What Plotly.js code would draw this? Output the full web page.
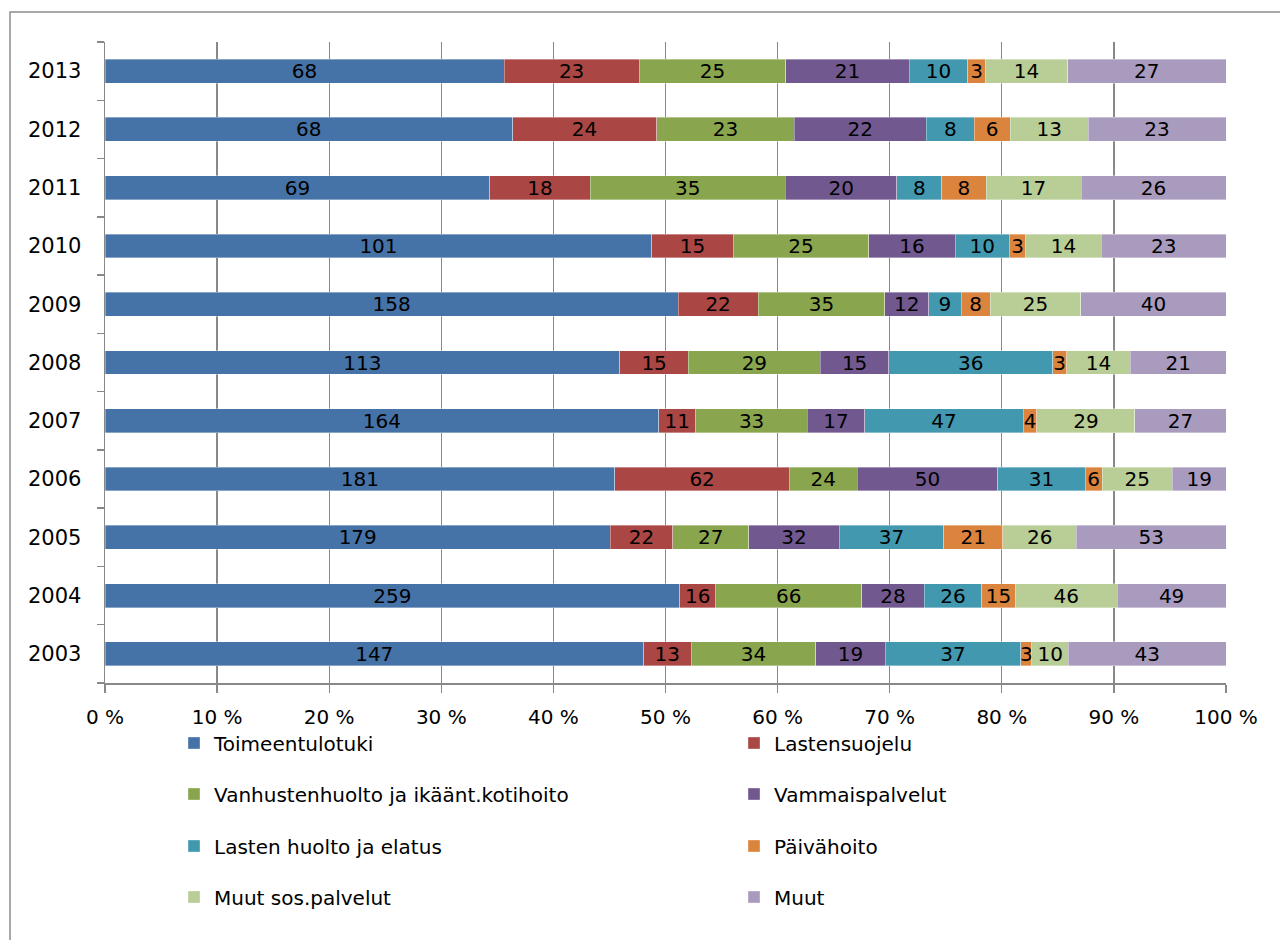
<!DOCTYPE html>
<html>
<head>
<meta charset="utf-8">
<script src="https://cdn.plot.ly/plotly-3.0.1.min.js"></script>
<style>html,body{margin:0;padding:0;background:#fff;}#chart{width:1280px;height:940px;}</style>
</head>
<body>
<div id="chart"></div>
<script>
const years = ['2003','2004','2005','2006','2007','2008','2009','2010','2011','2012','2013'];
const seriesNames = ['Toimeentulotuki','Lastensuojelu','Vanhustenhuolto ja ikäänt.kotihoito','Vammaispalvelut','Lasten huolto ja elatus','Päivähoito','Muut sos.palvelut','Muut'];
const toimeentulotuki = [147,259,179,181,164,113,158,101,69,68,68];
const lastensuojelu   = [13,16,22,62,11,15,22,15,18,24,23];
const vanhustenhuolto = [34,66,27,24,33,29,35,25,35,23,25];
const vammaispalvelut = [19,28,32,50,17,15,12,16,20,22,21];
const lastenHuolto    = [37,26,37,31,47,36,9,10,8,8,10];
const paivahoito      = [3,15,21,6,4,3,8,3,8,6,3];
const muutSos         = [10,46,26,25,29,14,25,14,17,13,14];
const muut            = [43,49,53,19,27,21,40,23,26,23,27];
const xTickVals = [0,10,20,30,40,50,60,70,80,90,100];
const xTickText = ['0 %','10 %','20 %','30 %','40 %','50 %','60 %','70 %','80 %','90 %','100 %'];

const seriesValues = [toimeentulotuki,lastensuojelu,vanhustenhuolto,vammaispalvelut,lastenHuolto,paivahoito,muutSos,muut];
const colors = ['#4572A7','#AA4643','#89A54E','#71588F','#4198AF','#DB843D','#B9CD96','#A99BBD'];

const FONT = 'DejaVu Sans, sans-serif';
const legendKeys = seriesNames.map((n,i)=> i===0 ? 'legend' : 'legend'+(i+1));
const traces = seriesNames.map((name,i)=>({
  type:'bar', orientation:'h', name:name,
  y: years, x: seriesValues[i], text: seriesValues[i].map(String),
  textposition:'inside', insidetextanchor:'middle', textangle:0,
  textfont:{family:FONT,size:20,color:'#000'},
  marker:{color:colors[i], line:{color:'rgba(255,255,255,0.45)',width:0.8}},
  legend: legendKeys[i],
  hoverinfo:'skip'
}));

const legendRowsY = [743,794,846,897];
const legendColsX = [174,734];
function leg(i){
  const row = Math.floor(i/2), col = i%2;
  return {orientation:'h', xref:'container', yref:'container', x:legendColsX[col]/1280, y:1-legendRowsY[row]/940,
    xanchor:'left', yanchor:'middle',
    font:{family:FONT,size:20,color:'#000'}, bgcolor:'rgba(0,0,0,0)', itemclick:false, itemdoubleclick:false};
}

const layout = {
  width:1280, height:940,
  margin:{l:105, r:54, t:42, b:257},
  paper_bgcolor:'#fff', plot_bgcolor:'#fff',
  barmode:'stack', barnorm:'percent', bargap:0.59,
  uniformtext:{mode:'show', minsize:20},
  hovermode:false,
  showlegend:true,
  font:{family:FONT,size:20,color:'#000'},
  xaxis:{range:[0,100], tickvals:xTickVals, ticktext:xTickText, showgrid:true, gridcolor:'#888', gridwidth:1.4,
    zeroline:false, showline:true, linecolor:'#888', linewidth:2, ticks:'outside', ticklen:8, tickcolor:'#888', tickwidth:1.4,
    ticklabelstandoff:7, tickfont:{family:FONT,size:20,color:'#000'}, automargin:false, fixedrange:true},
  yaxis:{type:'category', categoryorder:'array', categoryarray:years, range:[-0.5,10.5], showgrid:false, zeroline:false,
    showline:true, linecolor:'#888', linewidth:1.4, ticks:'outside', tickson:'boundaries', ticklen:7, tickcolor:'#888', tickwidth:1.4,
    ticklabelstandoff:18, tickfont:{family:FONT,size:21,color:'#000'}, automargin:false, fixedrange:true},
  shapes:[{type:'rect', xref:'paper', yref:'paper', x0:(10-105)/1121, x1:(1300-105)/1121, y0:(683-960)/641, y1:(683-12)/641,
    line:{color:'#8c8c8c', width:1.5}, fillcolor:'rgba(0,0,0,0)', layer:'below'}]
};
legendKeys.forEach((k,i)=>{ layout[k] = leg(i); });

Plotly.newPlot('chart', traces, layout, {displayModeBar:false, staticPlot:true});
</script>
</body>
</html>
